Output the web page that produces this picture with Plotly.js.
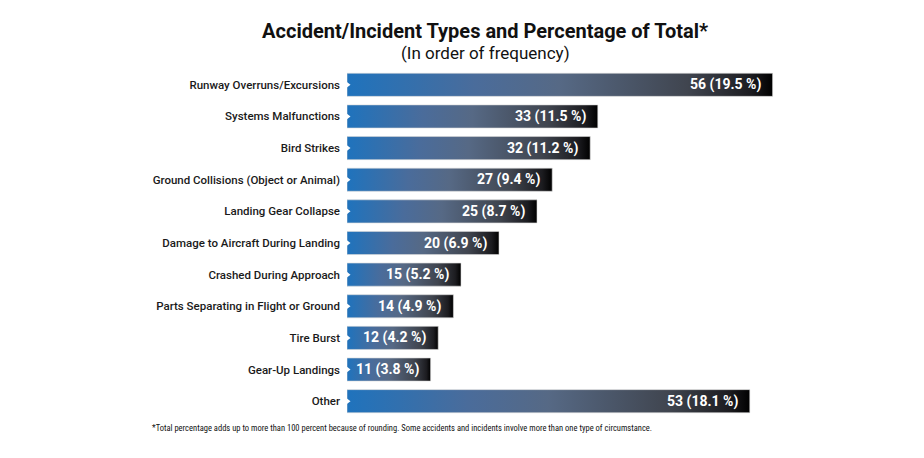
<!DOCTYPE html>
<html>
<head>
<meta charset="utf-8">
<script src="https://cdn.plot.ly/plotly-3.0.1.min.js"></script>
<style>html,body{margin:0;padding:0;background:#fff;}#chart{width:924px;height:458px;}</style>
</head>
<body>
<div id="chart"></div>
<script>
const categories = [
  "Runway Overruns/Excursions",
  "Systems Malfunctions",
  "Bird Strikes",
  "Ground Collisions (Object or Animal)",
  "Landing Gear Collapse",
  "Damage to Aircraft During Landing",
  "Crashed During Approach",
  "Parts Separating in Flight or Ground",
  "Tire Burst",
  "Gear-Up Landings",
  "Other"
];
const counts = [56, 33, 32, 27, 25, 20, 15, 14, 12, 11, 53];
const percents = ["19.5", "11.5", "11.2", "9.4", "8.7", "6.9", "5.2", "4.9", "4.2", "3.8", "18.1"];
const titleText = "Accident/Incident Types and Percentage of Total*";
const subtitleText = "(In order of frequency)";
const footnoteText = "*Total percentage adds up to more than 100 percent because of rounding. Some accidents and incidents involve more than one type of circumstance.";

const labels = counts.map((c, i) => c + " (" + percents[i] + " %)");
const FONT = "Roboto, 'Open Sans', sans-serif";
const NARROW = "'Roboto Condensed', 'Liberation Sans Narrow', Roboto, sans-serif";

const bars = {
  type: "bar",
  orientation: "h",
  y: categories,
  x: counts,
  marker: { color: "#3f5f8e", line: { color: "#d8d8d8", width: 0.6 } },
  hoverinfo: "none",
  showlegend: false
};
const notches = {
  type: "scatter",
  mode: "markers",
  y: categories,
  x: categories.map(() => 0),
  marker: { symbol: "triangle-right", color: "#ffffff", size: 7 },
  cliponaxis: false,
  hoverinfo: "none",
  showlegend: false
};

const annotations = counts.map((c, i) => ({
  x: c, y: categories[i], xref: "x", yref: "y",
  text: labels[i], showarrow: false, xanchor: "right", xshift: -10,
  font: { family: FONT, size: 14, color: "#ffffff", weight: 700 }
}));
annotations.push({
  xref: "paper", yref: "paper", x: 0.303, y: 1.046, xanchor: "center", yanchor: "middle",
  text: subtitleText, showarrow: false,
  font: { family: FONT, size: 17, color: "#111111" }
});
annotations.push({
  xref: "paper", yref: "paper", x: -0.432, y: -0.032, xanchor: "left", yanchor: "middle",
  text: footnoteText, showarrow: false,
  font: { family: NARROW, size: 8.5, color: "#111111" }
});

const layout = {
  width: 924, height: 458,
  margin: { l: 347, r: 121, t: 69, b: 41, pad: 0 },
  paper_bgcolor: "#ffffff", plot_bgcolor: "#ffffff",
  title: {
    text: titleText,
    x: 0.525, xanchor: "center", xref: "container",
    y: 1 - 31 / 458, yanchor: "middle", yref: "container",
    font: { family: FONT, size: 20, color: "#111111", weight: 700 }
  },
  bargap: 0.27,
  xaxis: { range: [0, 60], visible: false, fixedrange: true },
  yaxis: {
    range: [10.5, -0.5], showgrid: false, zeroline: false, showline: false,
    ticks: "", ticklabelstandoff: 6,
    tickfont: { family: FONT, size: 11.5, color: "#1a1a1a", weight: 500 }
  },
  annotations: annotations
};

Plotly.newPlot("chart", [bars, notches], layout, { staticPlot: true, displayModeBar: false }).then(gd => {
  const svg = gd.querySelector("svg.main-svg");
  const ns = "http://www.w3.org/2000/svg";
  let defs = svg.querySelector("defs");
  if (!defs) { defs = document.createElementNS(ns, "defs"); svg.insertBefore(defs, svg.firstChild); }
  const grad = document.createElementNS(ns, "linearGradient");
  grad.setAttribute("id", "barGrad");
  grad.setAttribute("x1", "0"); grad.setAttribute("y1", "0");
  grad.setAttribute("x2", "1"); grad.setAttribute("y2", "0");
  [["0", "#1f73bd"], ["0.3", "#4a6c9b"], ["0.5", "#566985"], ["0.8", "#40454f"], ["0.95", "#1c1c20"], ["1", "#000000"]].forEach(([o, c]) => {
    const s = document.createElementNS(ns, "stop");
    s.setAttribute("offset", o); s.setAttribute("stop-color", c);
    grad.appendChild(s);
  });
  defs.appendChild(grad);
  gd.querySelectorAll(".bars path").forEach(p => { p.style.fill = "url(#barGrad)"; });
});
</script>
</body>
</html>
